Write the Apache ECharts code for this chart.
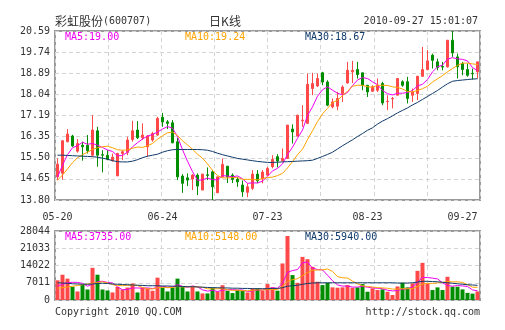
<!DOCTYPE html>
<html>
<head>
<meta charset="utf-8">
<script src="https://cdn.jsdelivr.net/npm/echarts@6/dist/echarts.min.js"></script>
<style>
  html, body { margin: 0; padding: 0; background: #fff; }
  #chart { width: 505px; height: 330px; }
</style>
</head>
<body>
<div id="chart"></div>
<script>
// Trading days shown on the daily K-line (category axis)
const dates = [
  '05-20','05-21','05-24','05-25','05-26','05-27','05-28','05-31',
  '06-01','06-02','06-03','06-04','06-07','06-08','06-09','06-10','06-11','06-17','06-21','06-22','06-23','06-24',
  '06-25','06-28','06-29','06-30',
  '07-01','07-02','07-05','07-06','07-07','07-08','07-09','07-12','07-13','07-14','07-15','07-16','07-19','07-20','07-21','07-22','07-23',
  '07-26','07-27','07-28','07-29',
  '08-02','08-03','08-04','08-05','08-06','08-09','08-10','08-11','08-12','08-13','08-16','08-17','08-18','08-19','08-20','08-23',
  '08-24','08-25','08-26','08-27','08-30','08-31',
  '09-01','09-02','09-03','09-06','09-07','09-08','09-09','09-10','09-13','09-14','09-15','09-16','09-17','09-20','09-21','09-27'
];
// Indices of dates printed under the price panel
const dateLabelIdx = [0, 21, 42, 62, 84];

// Daily prices
const opens = [
  14.73,14.87,16.14,16.37,15.76,16.00,16.00,15.60,16.58,15.62,
  15.60,15.38,14.77,15.67,15.71,16.23,16.61,16.30,15.94,16.21,
  16.41,17.12,16.94,16.90,16.14,14.76,14.69,14.64,14.80,14.20,
  14.81,14.93,14.09,14.73,15.16,14.80,14.63,14.40,14.11,14.27,
  14.84,14.66,14.80,15.14,15.54,15.38,15.47,16.65,16.37,16.98,
  16.88,18.28,18.38,18.91,18.54,17.54,17.57,18.08,18.50,18.95,
  19.04,18.91,18.41,18.17,18.21,18.48,17.75,17.86,18.01,18.55,
  18.55,18.01,18.08,18.77,19.04,19.62,19.35,19.16,19.15,20.22,
  19.55,19.28,19.04,18.89,18.95
];
const closes = [
  15.24,16.18,16.45,15.97,16.07,15.94,15.78,16.61,15.60,15.60,
  15.44,15.52,15.67,15.74,16.21,16.58,16.30,16.41,16.37,16.47,
  17.08,16.94,16.88,16.10,14.73,14.47,14.60,14.80,14.36,14.84,
  14.79,14.33,14.73,15.23,14.73,14.63,14.53,14.13,14.33,14.84,
  14.57,14.92,15.07,15.43,15.37,15.47,16.81,16.54,17.21,17.01,
  18.45,18.48,18.68,18.54,17.61,17.74,17.88,18.34,19.01,19.01,
  18.84,18.41,18.14,18.35,18.41,17.70,17.77,17.88,18.68,18.41,
  17.88,18.14,18.77,19.04,19.39,19.41,19.12,19.14,20.22,19.71,
  19.15,19.04,18.81,18.87,19.35
];
const lows = [
  14.60,14.62,16.12,15.94,15.70,15.38,15.67,15.54,15.14,14.91,
  15.40,15.34,14.76,15.40,15.60,16.14,16.25,16.21,15.54,16.14,
  16.38,16.74,16.65,16.08,14.60,14.09,14.36,14.20,14.00,14.20,
  14.60,13.80,14.09,14.71,14.48,14.48,14.33,13.93,13.91,14.20,
  14.48,14.47,14.76,15.07,15.11,15.34,15.45,16.07,16.35,16.74,
  16.85,18.01,18.34,18.41,17.57,17.48,17.41,17.74,18.48,18.50,
  18.68,18.21,17.94,18.14,18.14,17.61,17.41,17.48,18.01,18.35,
  17.68,17.74,17.81,18.75,19.01,19.08,19.01,19.01,19.12,19.55,
  18.68,18.81,18.75,18.64,18.68
];
const highs = [
  15.47,16.20,16.65,16.42,16.25,16.14,16.41,17.21,16.74,15.80,
  15.80,15.67,15.70,15.80,16.34,16.98,16.97,16.88,16.41,16.54,
  17.14,17.30,17.01,17.01,16.30,14.84,14.87,14.84,14.87,14.84,
  15.11,15.00,14.73,15.47,15.16,14.87,14.73,14.58,14.47,15.00,
  15.00,15.00,15.13,15.60,15.64,15.87,16.81,16.84,17.21,17.61,
  18.88,18.91,18.88,18.95,18.61,17.88,18.14,18.41,19.35,19.39,
  19.35,18.91,18.41,18.41,18.68,18.55,18.01,17.94,18.68,18.61,
  18.75,18.28,18.79,19.95,19.82,19.68,19.48,19.35,20.22,20.59,
  19.68,19.35,19.28,19.08,19.35
];

// Price moving averages
const ma5 = [
  14.72,15.20,15.62,15.90,15.98,16.12,16.04,16.07,16.00,15.91,
  15.81,15.75,15.57,15.59,15.72,15.94,16.10,16.25,16.37,16.43,
  16.53,16.65,16.75,16.69,16.35,15.82,15.36,14.94,14.59,14.61,
  14.68,14.62,14.61,14.78,14.76,14.73,14.77,14.65,14.47,14.49,
  14.48,14.56,14.75,14.97,15.07,15.25,15.63,15.92,16.28,16.61,
  17.20,17.54,17.97,18.23,18.35,18.21,18.09,18.02,18.12,18.40,
  18.62,18.72,18.68,18.55,18.43,18.20,18.07,18.02,18.09,18.09,
  18.12,18.20,18.38,18.45,18.64,18.95,19.15,19.22,19.46,19.52,
  19.47,19.45,19.39,19.12,19.00
];
const ma10 = [
  14.60,14.80,15.05,15.30,15.50,15.62,15.72,15.83,15.90,15.94,
  15.96,15.90,15.82,15.80,15.81,15.88,15.93,15.91,15.98,16.07,
  16.24,16.38,16.50,16.53,16.39,16.18,16.01,15.84,15.64,15.48,
  15.25,14.99,14.78,14.69,14.69,14.70,14.70,14.63,14.63,14.63,
  14.61,14.66,14.70,14.72,14.78,14.87,15.09,15.34,15.62,15.84,
  16.23,16.58,16.95,17.26,17.48,17.71,17.81,17.99,18.17,18.37,
  18.41,18.41,18.35,18.33,18.41,18.41,18.40,18.35,18.32,18.26,
  18.16,18.14,18.20,18.27,18.37,18.54,18.67,18.80,18.95,19.08,
  19.21,19.30,19.30,19.27,19.24
];
const ma30 = [
  15.60,15.60,15.59,15.58,15.57,15.56,15.55,15.54,15.52,15.48,
  15.44,15.38,15.34,15.33,15.33,15.36,15.42,15.50,15.56,15.60,
  15.64,15.72,15.78,15.82,15.83,15.83,15.83,15.83,15.83,15.82,
  15.80,15.75,15.68,15.62,15.57,15.52,15.47,15.44,15.41,15.38,
  15.35,15.33,15.31,15.31,15.32,15.33,15.34,15.35,15.36,15.37,
  15.38,15.40,15.47,15.55,15.63,15.72,15.85,15.98,16.10,16.22,
  16.35,16.47,16.60,16.70,16.85,16.97,17.07,17.18,17.30,17.40,
  17.50,17.62,17.72,17.84,17.96,18.08,18.20,18.34,18.47,18.57,
  18.60,18.62,18.64,18.66,18.67
];

// Daily volume (lots)
const volumes = [
  8010,10280,8680,5340,3470,6140,4270,13080,10280,4270,
  3870,3070,5340,4270,5070,6680,3070,5070,4670,3740,
  9080,5070,3470,5070,8680,5340,3470,5740,3470,2670,
  2670,5070,3470,6010,3740,2800,4140,3740,3070,4730,
  4730,3780,6480,5130,3780,14850,26020,10120,7000,17520,
  16590,13480,7410,6070,7000,5130,4990,5130,6070,4990,
  5130,6480,3360,4730,4050,4320,3360,2020,5500,7000,
  5130,6750,11860,15100,6750,4050,5130,4050,9440,5400,
  5400,4300,2900,2600,3475
];
// Volume moving averages
const volMa5 = [
  5600,6400,7000,7200,7156,6782,5580,6460,7448,7608,
  7154,6914,5366,4164,4324,4886,4886,4832,4912,4646,
  5126,5526,5206,5286,6274,5526,5206,5660,5340,4138,
  3604,3924,3470,3978,4192,4218,4032,4086,3498,3696,
  4082,4010,4558,4970,4780,6804,11252,11980,12354,15102,
  15450,12942,12400,12214,10110,7818,6120,5664,5664,5262,
  5262,5560,5206,4938,4750,4588,3964,3696,3850,4440,
  4602,5280,7248,9168,9118,8902,8578,7016,5884,5614,
  5884,5718,5488,4120,3735
];
const volMa10 = [
  4800,5000,5300,5600,5900,6200,6500,6800,7100,7382,
  6968,6247,5913,5806,5966,6020,5900,5099,4538,4485,
  5006,5206,5019,5099,5460,5326,5366,5433,5313,5206,
  4565,4565,4565,4659,4165,3911,3978,3778,3738,3944,
  4150,4021,4322,4234,4238,5443,7631,8269,8662,9941,
  11127,12097,12190,12284,12606,11634,9531,9032,8939,7686,
  6540,5840,5435,5301,5006,4925,4762,4451,4394,4595,
  4595,4622,5472,6509,6779,6752,6929,7132,7526,7366,
  7393,7148,6252,5200,5148
];
const volMa30 = [
  7000,6900,6800,6600,6500,6400,6400,6500,6700,6800,
  6700,6500,6400,6300,6200,6100,6000,5900,5800,5800,
  5800,5700,5700,5600,5600,5500,5400,5400,5300,5200,
  5100,5000,5000,4900,4900,4800,4800,4700,4700,4600,
  4600,4600,4600,4700,4700,5000,5600,5800,6000,6400,
  6700,6900,7000,7000,7000,7000,7000,7000,7000,7000,
  7000,7000,7000,7000,7000,7000,7000,7000,6900,6900,
  6900,7000,7300,7600,7600,7500,7400,7200,7000,6800,
  6600,6400,6200,6100,5940
];

// Axis tick labels
const priceMin = 13.80, priceMax = 20.59, priceStep = 0.84875;
const priceTicks = ['13.80','14.65','15.50','16.35','17.19','18.04','18.89','19.74','20.59'];
const volMax = 28044, volStep = 7011;
const volumeTicks = ['0','7011','14022','21033','28044'];

const MONO = '"DejaVu Sans Mono", monospace';
const CJK = '"Noto Sans CJK SC", sans-serif';
const RED = '#ff4848';
const GREEN = '#008e00';
const C5 = '#f000f0';
const C10 = '#ffa300';
const C30 = '#0f3a6a';
const TEXT = '#333333';
const GRID_LINE = { color: '#d4d4d4', width: 1, type: [4, 3] };

const last = closes.length - 1;
const candles = opens.map((o, i) => [o, closes[i], lows[i], highs[i]]);
const volBars = volumes.map((v, i) => ({
  value: v,
  itemStyle: { color: closes[i] >= opens[i] ? RED : GREEN }
}));

function maLine(name, data, color, xi, yi) {
  return {
    name, type: 'line', data, xAxisIndex: xi, yAxisIndex: yi,
    showSymbol: false, symbol: 'none', smooth: false, z: 5,
    lineStyle: { color, width: 1 }, emphasis: { disabled: true }
  };
}

function hiddenCategory(gridIndex, showLabel) {
  return {
    type: 'category', gridIndex, data: dates, boundaryGap: true,
    axisLine: { show: false }, axisTick: { show: false }, splitLine: { show: false },
    axisLabel: showLabel ? {
      show: true,
      interval: (idx) => dateLabelIdx.includes(idx),
      color: TEXT, fontSize: 10, fontFamily: MONO, margin: 12,
      alignMaxLabel: 'right', showMaxLabel: true, showMinLabel: true
    } : { show: false }
  };
}

function verticalGrid(gridIndex) {
  return {
    type: 'value', gridIndex, position: 'top', min: 0, max: 8, interval: 1,
    axisLine: { show: false }, axisTick: { show: false }, axisLabel: { show: false },
    splitLine: { show: true, lineStyle: GRID_LINE }
  };
}

function legendText(x, y, text, color) {
  return {
    type: 'text', x, y, silent: true, z: 100,
    style: { text, fill: color, font: '10px ' + MONO, align: 'left', verticalAlign: 'middle' }
  };
}

const chart = echarts.init(document.getElementById('chart'), null, { renderer: 'canvas' });

chart.setOption({
  animation: false,
  backgroundColor: '#ffffff',
  textStyle: { fontFamily: MONO },
  grid: [
    { left: 55, top: 31, width: 425, height: 169, show: true, borderColor: '#9a9a9a', borderWidth: 2, backgroundColor: 'transparent' },
    { left: 55, top: 231, width: 425, height: 69, show: true, borderColor: '#9a9a9a', borderWidth: 2, backgroundColor: 'transparent' }
  ],
  xAxis: [
    hiddenCategory(0, true),
    hiddenCategory(1, false),
    verticalGrid(0),
    verticalGrid(1)
  ],
  yAxis: [
    {
      type: 'value', gridIndex: 0, min: priceMin, max: priceMax, interval: priceStep,
      axisLine: { show: false }, axisTick: { show: false },
      axisLabel: {
        color: TEXT, fontSize: 10, fontFamily: MONO, margin: 5,
        formatter: (v) => priceTicks[Math.round((v - priceMin) / priceStep)] || ''
      },
      splitLine: { show: true, lineStyle: GRID_LINE }
    },
    {
      type: 'value', gridIndex: 1, min: 0, max: volMax, interval: volStep,
      axisLine: { show: false }, axisTick: { show: false },
      axisLabel: {
        color: TEXT, fontSize: 10, fontFamily: MONO, margin: 5,
        formatter: (v) => volumeTicks[Math.round(v / volStep)] || ''
      },
      splitLine: { show: true, lineStyle: GRID_LINE }
    }
  ],
  series: [
    {
      name: 'K', type: 'candlestick', data: candles, xAxisIndex: 0, yAxisIndex: 0,
      barWidth: 3, z: 3,
      itemStyle: { color: RED, color0: GREEN, borderColor: RED, borderColor0: GREEN, borderWidth: 1 },
      emphasis: { disabled: true }
    },
    maLine('MA5', ma5, C5, 0, 0),
    maLine('MA10', ma10, C10, 0, 0),
    maLine('MA30', ma30, C30, 0, 0),
    {
      name: 'VOL', type: 'bar', data: volBars, xAxisIndex: 1, yAxisIndex: 1,
      barWidth: 4, z: 3, emphasis: { disabled: true }
    },
    maLine('VMA5', volMa5, C5, 1, 1),
    maLine('VMA10', volMa10, C10, 1, 1),
    maLine('VMA30', volMa30, C30, 1, 1)
  ],
  graphic: [
    { type: 'text', x: 55, y: 21, silent: true,
      style: { text: '彩虹股份', fill: TEXT, font: '12px ' + CJK, align: 'left', verticalAlign: 'middle' } },
    { type: 'text', x: 103, y: 21, silent: true,
      style: { text: '(600707)', fill: TEXT, font: '10px ' + MONO, align: 'left', verticalAlign: 'middle' } },
    { type: 'text', x: 225, y: 21, silent: true,
      style: { text: '日K线', fill: TEXT, font: '12px ' + CJK, align: 'center', verticalAlign: 'middle' } },
    { type: 'text', x: 478, y: 21, silent: true,
      style: { text: '2010-09-27 15:01:07', fill: TEXT, font: '10px ' + MONO, align: 'right', verticalAlign: 'middle' } },
    legendText(65, 37, 'MA5:' + ma5[last].toFixed(2), C5),
    legendText(185, 37, 'MA10:' + ma10[last].toFixed(2), C10),
    legendText(305, 37, 'MA30:' + ma30[last].toFixed(2), C30),
    legendText(65, 237, 'MA5:' + volMa5[last].toFixed(2), C5),
    legendText(185, 237, 'MA10:' + volMa10[last].toFixed(2), C10),
    legendText(305, 237, 'MA30:' + volMa30[last].toFixed(2), C30),
    { type: 'text', x: 55, y: 312, silent: true,
      style: { text: 'Copyright 2010 QQ.COM', fill: TEXT, font: '10px ' + MONO, align: 'left', verticalAlign: 'middle' } },
    { type: 'text', x: 480, y: 312, silent: true,
      style: { text: 'http://stock.qq.com', fill: TEXT, font: '10px ' + MONO, align: 'right', verticalAlign: 'middle' } }
  ]
});
</script>
</body>
</html>
